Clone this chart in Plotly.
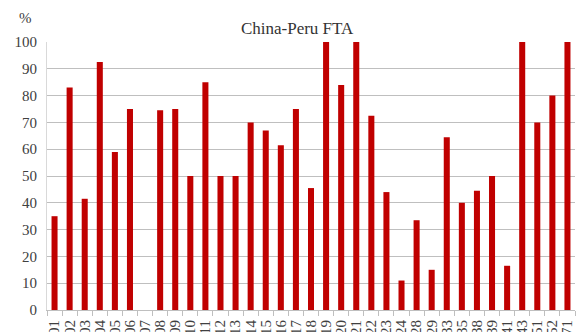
import plotly.graph_objects as go

# Product groups (HS chapters) and share of tariff lines liberalised, %
categories = ["01", "02", "03", "04", "05", "06", "07", "08", "09", "10",
              "11", "12", "13", "14", "15", "16", "17", "18", "19", "20",
              "21", "22", "23", "24", "28", "29", "33", "35", "38", "39",
              "41", "43", "51", "52", "71"]
values = [35, 83, 41.5, 92.5, 59, 75, 0, 74.5, 75, 50,
          85, 50, 50, 70, 67, 61.5, 75, 45.5, 100, 84,
          100, 72.5, 44, 11, 33.5, 15, 64.5, 40, 44.5, 50,
          16.5, 100, 70, 80, 100]
y_ticks = list(range(0, 101, 10))

font_family = "Liberation Serif"

fig = go.Figure(
    go.Bar(
        x=categories,
        y=values,
        marker=dict(color="#C00000", line=dict(width=0)),
        width=0.4,
    )
)

fig.update_layout(
    width=577,
    height=332,
    margin=dict(l=47, r=2, t=42, b=22),
    paper_bgcolor="white",
    plot_bgcolor="white",
    showlegend=False,
    title=dict(
        text="China-Peru FTA",
        x=0.515, xanchor="center",
        y=0.915, yanchor="middle",
        font=dict(family=font_family, size=17, color="#333333"),
    ),
    font=dict(family=font_family, size=14, color="#404040"),
)

fig.update_xaxes(
    type="category",
    tickmode="array",
    tickvals=categories,
    ticktext=categories,
    tickangle=-90,
    ticks="outside",
    tickson="boundaries",
    ticklen=5,
    tickcolor="#BFBFBF",
    ticklabelstandoff=3,
    showline=True,
    linecolor="#BFBFBF",
    linewidth=1,
    showgrid=False,
    automargin=False,
    tickfont=dict(family=font_family, size=15, color="#404040"),
)

fig.update_yaxes(
    range=[0, 100],
    tickvals=y_ticks,
    showgrid=True,
    gridcolor="#BFBFBF",
    gridwidth=1,
    showline=True,
    linecolor="#D9D9D9",
    linewidth=1,
    zeroline=False,
    ticks="",
    ticklabelstandoff=6,
    automargin=False,
    tickfont=dict(family=font_family, size=15, color="#404040"),
)

fig.add_annotation(
    text="%",
    xref="paper", yref="paper",
    x=-0.04, y=1.09,
    xanchor="center", yanchor="middle",
    showarrow=False,
    font=dict(family=font_family, size=15, color="#404040"),
)

fig.write_html("out.html")
